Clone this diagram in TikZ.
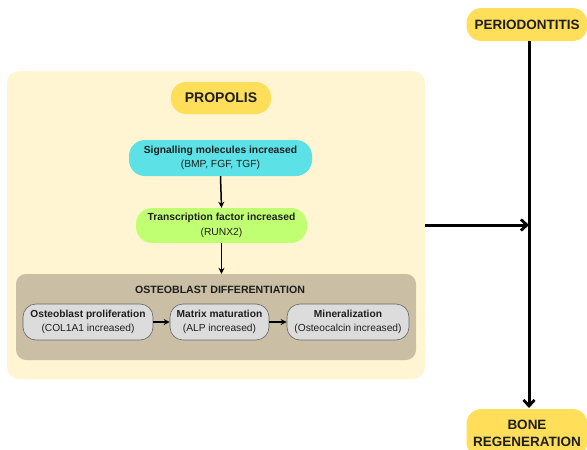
\documentclass[tikz,border=0pt]{standalone}
\usepackage{fontspec}
\setmainfont{Liberation Sans}
\usetikzlibrary{arrows.meta}
\definecolor{bgyel}{HTML}{FFF5D2}
\definecolor{gold}{HTML}{FFDE59}
\definecolor{cyanb}{HTML}{5CE1E6}
\definecolor{greenb}{HTML}{C1FF72}
\definecolor{tan}{HTML}{CABFA4}
\definecolor{greyb}{HTML}{DCDCDC}
\definecolor{txt}{HTML}{1E1E1E}
\tikzset{
  pill/.style={rounded corners=#1, inner sep=0pt, align=center, text=txt},
  pill/.default=14pt,
  stepbox/.style={pill=13pt, fill=greyb, draw=black!60, line width=0.6pt, font=\fontsize{10.2}{14}\selectfont},
  thinarr/.style={-{Stealth[length=6pt,width=6pt]}, line width=1.5pt},
  bigarr/.style={-{Straight Barb[length=6pt,width=11pt,line width=2.8pt]}, line width=3pt},
}
\begin{document}
\begin{tikzpicture}[x=1pt,y=-1pt]
\useasboundingbox (0,0) rectangle (587,450);
% background box
\node[fill=bgyel, rounded corners=12pt, minimum width=418pt, minimum height=308pt, inner sep=0pt] (bg) at (216,225) {};
% propolis
\node[pill=15pt, fill=gold, minimum width=100pt, minimum height=32pt, font=\fontsize{14}{17}\selectfont\bfseries] (prop) at (221,98) {PROPOLIS};
% signalling
\node[pill=16pt, fill=cyanb, minimum width=183pt, minimum height=36pt, font=\fontsize{10.3}{14.5}\selectfont] (sig) at (220.5,158) {\textbf{Signalling molecules increased}\\(BMP, FGF, TGF)};
% transcription
\node[pill=16pt, fill=greenb, minimum width=171pt, minimum height=35pt, font=\fontsize{10.3}{14.5}\selectfont] (tf) at (221.5,225.5) {\textbf{Transcription factor increased}\\(RUNX2)};
% osteoblast differentiation
\node[fill=tan, rounded corners=10pt, minimum width=400pt, minimum height=86pt, inner sep=0pt] (od) at (216,317) {};
\node[font=\fontsize{10.6}{12}\selectfont\bfseries, text=txt] (odt) at (220,289.5) {OSTEOBLAST DIFFERENTIATION};
\node[stepbox, minimum width=130pt, minimum height=36pt] (s1) at (88,322) {\textbf{Osteoblast proliferation}\\(COL1A1 increased)};
\node[stepbox, minimum width=99pt, minimum height=36pt] (s2) at (219.5,322) {\textbf{Matrix maturation}\\(ALP increased)};
\node[stepbox, minimum width=122pt, minimum height=36pt] (s3) at (348,322) {\textbf{Mineralization}\\(Osteocalcin increased)};
% arrows inside
\draw[thinarr] (sig.south) -- (tf.north);
\draw[thinarr] (tf.south) -- (od.north -| tf.south);
\draw[thinarr, line width=1.8pt] (s1.east) -- (s2.west);
\draw[thinarr, line width=1.8pt] (s2.east) -- (s3.west);
% right side
\node[pill=15pt, fill=gold, minimum width=121pt, minimum height=33pt, font=\fontsize{13.5}{16}\selectfont\bfseries] (per) at (527,24.5) {PERIODONTITIS};
\node[pill=15pt, fill=gold, minimum width=121pt, minimum height=48pt, font=\fontsize{13.5}{17}\selectfont\bfseries] (bone) at (527,433) {BONE\\REGENERATION};
\draw[bigarr] (per.south -| 529,0) -- (529,408);
\coordinate (junc) at (529,225);
\draw[bigarr] (bg.east |- 0,225) -- (junc);
\end{tikzpicture}
\end{document}
